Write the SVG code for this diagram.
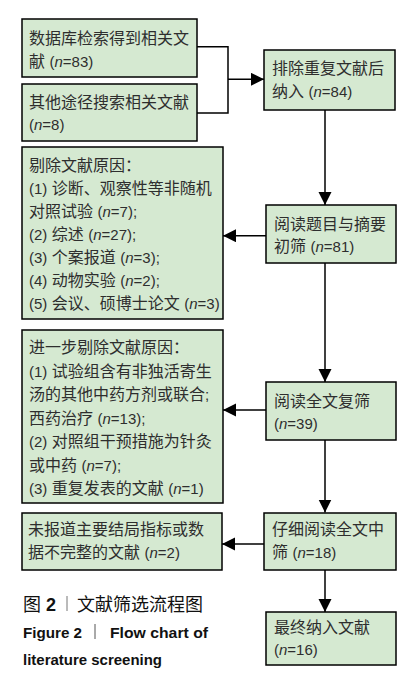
<svg xmlns="http://www.w3.org/2000/svg" width="412" height="684" viewBox="0 0 412 684">
<defs>
<style>
.box{fill:#d5e9d1;stroke:#000;stroke-width:1.5}
.t{font-family:"Liberation Sans","Noto Sans CJK SC",sans-serif;font-size:16px;fill:#2e2e2e}
.l{font-size:15px}
.c{fill:none;stroke:#000;stroke-width:1.5}
.cap{font-family:"Liberation Sans","Noto Sans CJK SC",sans-serif;fill:#111}
.fb{font-size:15.5px;font-weight:bold}
</style>
<marker id="ah" markerUnits="userSpaceOnUse" markerWidth="14" markerHeight="14" refX="13" refY="6.5" orient="auto">
<path d="M0,0 L13,6.5 L0,13 Z" fill="#000"/>
</marker>
</defs>
<rect width="412" height="684" fill="#fff"/>

<g id="connectors">
<path class="c" d="M197,46.7 H228 V113 H197"/>
<path class="c" d="M228,79.3 H264" marker-end="url(#ah)"/>
<path class="c" d="M325,110 V205" marker-end="url(#ah)"/>
<path class="c" d="M266,235.7 H223" marker-end="url(#ah)"/>
<path class="c" d="M325,263 V382" marker-end="url(#ah)"/>
<path class="c" d="M266,410 H223" marker-end="url(#ah)"/>
<path class="c" d="M325,440 V512.5" marker-end="url(#ah)"/>
<path class="c" d="M264,544 H222" marker-end="url(#ah)"/>
<path class="c" d="M325,570 V612" marker-end="url(#ah)"/>
</g>

<g id="n1">
<rect class="box" x="22" y="19" width="175" height="58"/>
<text class="t" x="29" y="44">数据库检索得到相关文</text>
<text class="t" x="29" y="67">献 <tspan class="l">(<tspan font-style="italic">n</tspan>=83)</tspan></text>
</g>
<g id="n2">
<rect class="box" x="22" y="84" width="175" height="57"/>
<text class="t" x="29" y="108">其他途径搜索相关文献</text>
<text class="t" x="29" y="130"><tspan class="l">(<tspan font-style="italic">n</tspan>=8)</tspan></text>
</g>
<g id="n3">
<rect class="box" x="264" y="50" width="131" height="60"/>
<text class="t" x="272" y="74">排除重复文献后</text>
<text class="t" x="272" y="97">纳入 <tspan class="l">(<tspan font-style="italic">n</tspan>=84)</tspan></text>
</g>
<g id="n4">
<rect class="box" x="266" y="205" width="130" height="58"/>
<text class="t" x="274" y="230">阅读题目与摘要</text>
<text class="t" x="274" y="252">初筛 <tspan class="l">(<tspan font-style="italic">n</tspan>=81)</tspan></text>
</g>
<g id="n5">
<rect class="box" x="22" y="147" width="201" height="172"/>
<text class="t" x="29" y="171">剔除文献原因：</text>
<text class="t" x="29" y="194"><tspan class="l">(1)</tspan> 诊断、观察性等非随机</text>
<text class="t" x="29" y="217">对照试验 <tspan class="l">(<tspan font-style="italic">n</tspan>=7);</tspan></text>
<text class="t" x="29" y="240"><tspan class="l">(2)</tspan> 综述 <tspan class="l">(<tspan font-style="italic">n</tspan>=27);</tspan></text>
<text class="t" x="29" y="263"><tspan class="l">(3)</tspan> 个案报道 <tspan class="l">(<tspan font-style="italic">n</tspan>=3);</tspan></text>
<text class="t" x="29" y="286"><tspan class="l">(4)</tspan> 动物实验 <tspan class="l">(<tspan font-style="italic">n</tspan>=2);</tspan></text>
<text class="t" x="29" y="309"><tspan class="l">(5)</tspan> 会议、硕博士论文 <tspan class="l">(<tspan font-style="italic">n</tspan>=3)</tspan></text>
</g>
<g id="n6">
<rect class="box" x="266" y="382" width="130" height="58"/>
<text class="t" x="274" y="407">阅读全文复筛</text>
<text class="t" x="274" y="429"><tspan class="l">(<tspan font-style="italic">n</tspan>=39)</tspan></text>
</g>
<g id="n7">
<rect class="box" x="22" y="330" width="201" height="173"/>
<text class="t" x="29" y="353">进一步剔除文献原因：</text>
<text class="t" x="29" y="377"><tspan class="l">(1)</tspan> 试验组含有非独活寄生</text>
<text class="t" x="29" y="400">汤的其他中药方剂或联合<tspan class="l">;</tspan></text>
<text class="t" x="29" y="424">西药治疗 <tspan class="l">(<tspan font-style="italic">n</tspan>=13);</tspan></text>
<text class="t" x="29" y="447"><tspan class="l">(2)</tspan> 对照组干预措施为针灸</text>
<text class="t" x="29" y="471">或中药 <tspan class="l">(<tspan font-style="italic">n</tspan>=7);</tspan></text>
<text class="t" x="29" y="494"><tspan class="l">(3)</tspan> 重复发表的文献 <tspan class="l">(<tspan font-style="italic">n</tspan>=1)</tspan></text>
</g>
<g id="n8">
<rect class="box" x="264" y="513" width="132" height="57"/>
<text class="t" x="272" y="535">仔细阅读全文中</text>
<text class="t" x="272" y="558">筛 <tspan class="l">(<tspan font-style="italic">n</tspan>=18)</tspan></text>
</g>
<g id="n9">
<rect class="box" x="22" y="513" width="200" height="57"/>
<text class="t" x="28" y="535">未报道主要结局指标或数</text>
<text class="t" x="28" y="558">据不完整的文献 <tspan class="l">(<tspan font-style="italic">n</tspan>=2)</tspan></text>
</g>
<g id="n10">
<rect class="box" x="266" y="612" width="130" height="53"/>
<text class="t" x="274" y="633">最终纳入文献</text>
<text class="t" x="274" y="655"><tspan class="l">(<tspan font-style="italic">n</tspan>=16)</tspan></text>
</g>

<g id="caption">
<text class="cap" x="23" y="611" font-size="18">图 <tspan font-weight="bold">2</tspan></text>
<line x1="67" y1="596" x2="67" y2="611" stroke="#777" stroke-width="1"/>
<text class="cap" x="77" y="611" font-size="18">文献筛选流程图</text>
<text class="cap fb" x="23" y="638" textLength="59" lengthAdjust="spacingAndGlyphs">Figure 2</text>
<line x1="95" y1="624" x2="95" y2="639" stroke="#555" stroke-width="1"/>
<text class="cap fb" x="110" y="638" textLength="98" lengthAdjust="spacingAndGlyphs">Flow chart of</text>
<text class="cap fb" x="23" y="665" textLength="139" lengthAdjust="spacingAndGlyphs">literature screening</text>
</g>
</svg>
